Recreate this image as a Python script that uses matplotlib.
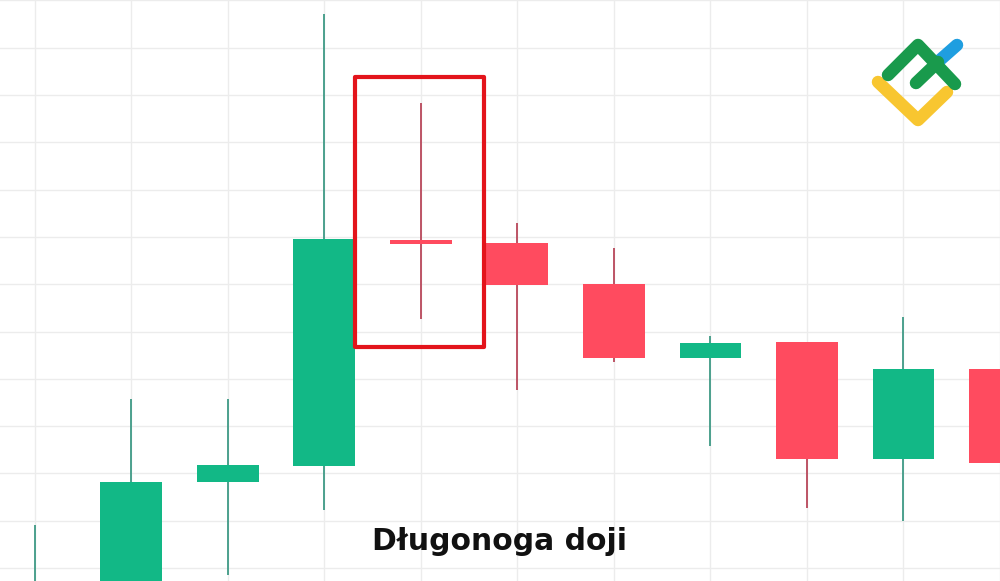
import matplotlib
matplotlib.use("Agg")
import matplotlib.pyplot as plt
from matplotlib.patches import Rectangle
from matplotlib.lines import Line2D

# ---- data (price units; grid at integer prices) ----
idx    = [0, 1, 2, 3, 4, 5, 6, 7, 8, 9, 10]
opens  = [-2.0, -0.8, 1.82, 2.16, 6.93, 6.87, 6.00, 4.44, 4.78, 2.30, 4.21]
closes = [-0.5, 1.82, 2.18, 6.96, 6.85, 5.98, 4.44, 4.76, 2.30, 4.21, 2.22]
highs  = [0.91, 3.57, 3.57, 11.71, 9.83, 7.29, 6.77, 4.90, 4.78, 5.31, 4.21]
lows   = [-2.2, -1.0, -0.15, 1.23, 5.26, 3.76, 4.36, 2.58, 1.27, 0.99, 2.22]
label = "Długonoga doji"
doji_index = 4

GREEN = "#12b886"
RED = "#ff4b5f"
GREEN_WICK = "#3f9a85"
RED_WICK = "#b8475a"

fig = plt.figure(figsize=(10, 5.81), dpi=100)
ax = fig.add_axes([0, 0, 1, 1])
ax.set_xlim(-0.362, 9.99)
ax.set_ylim(-0.275, 12.01)
for s in ax.spines.values():
    s.set_visible(False)
ax.set_xticks(range(0, 11))
ax.set_yticks(range(0, 13))
ax.tick_params(length=0, labelbottom=False, labelleft=False)
ax.grid(True, color="#ececec", linewidth=1.0)
ax.set_axisbelow(True)

w = 0.642
for i, o, c, h, l in zip(idx, opens, closes, highs, lows):
    up = c > o
    col = GREEN if up else RED
    wcol = GREEN_WICK if up else RED_WICK
    ax.plot([i, i], [l, h], color=wcol, linewidth=1.3, zorder=2, solid_capstyle="butt")
    bot = min(o, c)
    hgt = max(abs(c - o), 0.05)
    ax.add_patch(Rectangle((i - w / 2, bot), w, hgt, facecolor=col,
                           edgecolor="none", zorder=3))

# highlight box around doji
ax.add_patch(Rectangle((doji_index - 0.687, 4.67), 1.345, 5.71, fill=False,
                       edgecolor="#e3141b", linewidth=3.0, zorder=4,
                       joinstyle="round"))

ax.text(0.5, 0.068, label, transform=ax.transAxes, ha="center", va="center",
        fontsize=21.5, fontweight="bold", family=["DejaVu Sans"],
        color="#111111", zorder=5)

# logo (pixel-coordinate overlay)
lax = fig.add_axes([0, 0, 1, 1], zorder=10)
lax.set_xlim(0, 1000)
lax.set_ylim(581, 0)
lax.axis("off")
lax.patch.set_alpha(0)
kw = dict(linewidth=9, solid_capstyle="round", solid_joinstyle="round")
lax.add_line(Line2D([878, 918, 947], [82, 120, 92], color="#f8c630", **kw))
lax.add_line(Line2D([940, 957], [60, 45], color="#1f9ee0", **kw))
lax.add_line(Line2D([888, 918, 955], [75, 45, 84], color="#199a4c", **kw))
lax.add_line(Line2D([916, 938], [83, 62], color="#199a4c", **kw))

fig.savefig("out.png", dpi=100, facecolor="white")
